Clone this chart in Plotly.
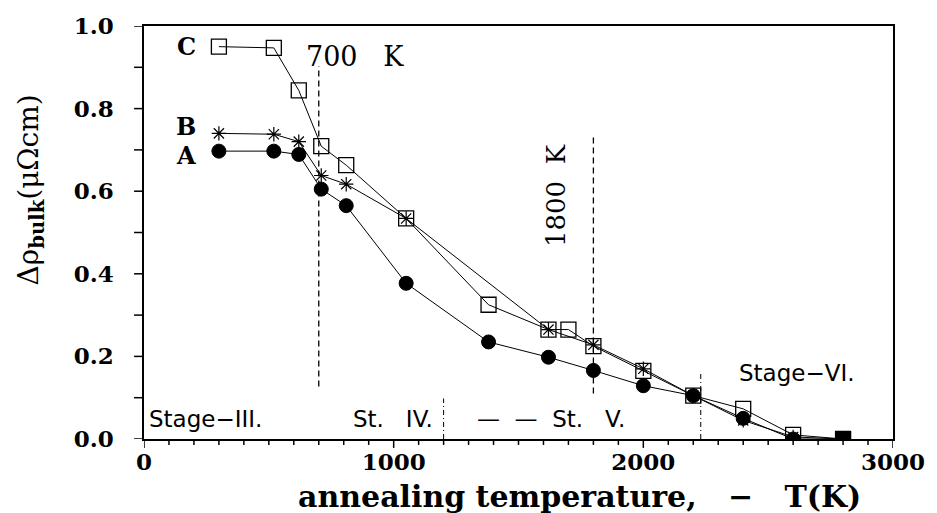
import plotly.graph_objects as go

# ---- data ----
T_A = [300, 520, 620, 710, 810, 1050, 1380, 1620, 1800, 2000, 2200, 2400, 2600, 2800]
A = [0.697, 0.697, 0.689, 0.605, 0.565, 0.377, 0.235, 0.198, 0.166, 0.129, 0.105, 0.050, 0.0, 0.0]

T_B = [300, 520, 620, 710, 810, 1050, 1620, 1800, 2000, 2200, 2400, 2600, 2800]
B = [0.740, 0.738, 0.720, 0.638, 0.617, 0.534, 0.265, 0.228, 0.170, 0.105, 0.045, 0.005, 0.0]

T_C = [300, 520, 620, 710, 810, 1050, 1380, 1620, 1700, 1800, 2000, 2200, 2400, 2600, 2800]
C = [0.950, 0.947, 0.844, 0.709, 0.663, 0.534, 0.325, 0.265, 0.265, 0.225, 0.165, 0.105, 0.073, 0.010, 0.0]

# reference lines: (T, y_bottom, y_top)
marker_lines = [(700, 0.127, 0.903), (1800, 0.11, 0.74)]
stage_lines = [(1200, 0.0, 0.098), (2230, 0.0, 0.161)]

# ticks (every 100 K / 0.1, labels on majors only)
x_tickvals = list(range(0, 3001, 100))
x_major = [0, 1000, 2000, 3000]
y_tickvals = [i / 10 for i in range(0, 11)]
y_major = [0.0, 0.2, 0.4, 0.6, 0.8, 1.0]

serif = "DejaVu Serif"
sans = "DejaVu Sans"
NB = "\u00a0"

W, H = 937, 513
ML, MR, MT, MB = 144, 40, 22, 74
PW, PH = W - ML - MR, H - MT - MB

fig = go.Figure()

fig.add_trace(go.Scatter(
    x=T_A, y=A, mode="lines+markers",
    line=dict(color="#000000", width=1),
    marker=dict(symbol=["circle"] * (len(T_A) - 1) + ["square"], size=[14] * (len(T_A) - 1) + [15],
                color="#000000", opacity=1, line=dict(color="#000000", width=1)),
    showlegend=False))
fig.add_trace(go.Scatter(
    x=T_B, y=B, mode="lines+markers",
    line=dict(color="#000000", width=1),
    marker=dict(symbol="asterisk-open", size=12, color="#000000", line=dict(color="#000000", width=1.2)),
    showlegend=False))
fig.add_trace(go.Scatter(
    x=T_C, y=C, mode="lines+markers",
    line=dict(color="#000000", width=1),
    marker=dict(symbol="square-open", size=15, color="#000000", line=dict(color="#000000", width=1.3)),
    showlegend=False))

shapes = []
for t, y0, y1 in marker_lines:
    shapes.append(dict(type="line", xref="x", yref="y", x0=t, x1=t, y0=y0, y1=y1,
                       line=dict(color="black", width=1.3, dash="6px,4px")))
for t, y0, y1 in stage_lines:
    shapes.append(dict(type="line", xref="x", yref="y", x0=t, x1=t, y0=y0, y1=y1,
                       line=dict(color="black", width=1, dash="5px,3px,1px,3px")))
# tick marks (outside)
for v in x_tickvals:
    L = 9 if v in x_major else 6
    shapes.append(dict(type="line", xref="x", yref="paper", x0=v, x1=v, y0=0, y1=-L / PH,
                       line=dict(color="black", width=1.5)))
for v in y_tickvals:
    shapes.append(dict(type="line", xref="paper", yref="y", x0=0, x1=-10 / PW, y0=v, y1=v,
                       line=dict(color="black", width=1.5)))

ann = []
def add(text, x, y, font, size, xanchor="center", textangle=0, xref="x", yref="y"):
    ann.append(dict(text=text, x=x, y=y, xref=xref, yref=yref,
                    showarrow=False, xanchor=xanchor, yanchor="middle", textangle=textangle,
                    font=dict(family=font, size=size, color="black")))

add("<b>C</b>", 170, 0.95, serif, 24)
add("<b>B</b>", 170, 0.757, serif, 24)
add("<b>A</b>", 170, 0.687, serif, 24)
add("700" + NB * 3 + "K", 641, 0.925, serif, 27, xanchor="left")
add("1800" + NB * 2 + "K", 1653, 0.59, serif, 26, textangle=-90)
add("Stage\u2212III.", 12, 0.048, sans, 23, xanchor="left")
add("St." + NB * 3 + "IV.", 830, 0.048, sans, 23, xanchor="left")
add("\u2014" + NB * 2 + "\u2014" + NB * 2 + "St." + NB * 3 + "V.", 1327, 0.048, sans, 23, xanchor="left")
add("Stage\u2212VI.", 2375, 0.161, sans, 23, xanchor="left")

# axis titles as paper annotations
add("<b>annealing temperature," + NB * 3 + "\u2212" + NB * 3 + "T(K)</b>", 0.5817, -0.139, serif, 30,
    xref="paper", yref="paper")
add("\u0394\u03c1<sub><b>bulk</b></sub>(\u03bc\u03a9cm)", -0.151, 0.604, serif, 28,
    textangle=-90, xref="paper", yref="paper")

fig.update_layout(
    width=W, height=H,
    margin=dict(l=ML, r=MR, t=MT, b=MB),
    plot_bgcolor="white", paper_bgcolor="white",
    shapes=shapes, annotations=ann,
    xaxis=dict(range=[0, 3000], tickmode="array", tickvals=x_major,
               ticktext=[str(v) for v in x_major],
               showgrid=False, zeroline=False, showline=True, linecolor="black", linewidth=1.5,
               mirror=True, ticks="", ticklabelstandoff=2,
               tickfont=dict(family=serif, size=23, color="black", weight="bold")),
    yaxis=dict(range=[0, 1.0], tickmode="array", tickvals=y_major,
               ticktext=["%.1f" % v for v in y_major],
               showgrid=False, zeroline=False, showline=True, linecolor="black", linewidth=1.5,
               mirror=True, ticks="", ticklabelstandoff=24,
               tickfont=dict(family=serif, size=23, color="black", weight="bold")),
)

fig.write_html("out.html")
